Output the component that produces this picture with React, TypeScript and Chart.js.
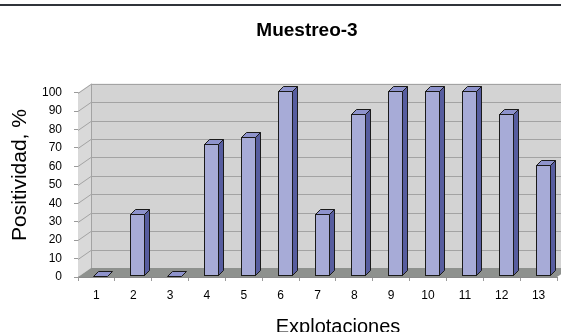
import React, { useEffect, useRef } from "react";
import { Chart, registerables } from "chart.js";

Chart.register(...registerables);

const categories = ["1", "2", "3", "4", "5", "6", "7", "8", "9", "10", "11", "12", "13"];
const positividad = [0, 33.3, 0, 71.4, 75, 100, 33.3, 87.5, 100, 100, 100, 87.5, 60];
const yTicks = [0, 10, 20, 30, 40, 50, 60, 70, 80, 90, 100];
const chartTitle = "Muestreo-3";
const xTitle = "Explotaciones";
const yTitle = "Positividad, %";

const FONT = 'Arial, "Liberation Sans", sans-serif';
const DX = 13;
const DY = 9;

const threeD = {
  id: "threeD",
  beforeDraw(chart: any) {
    const ctx = chart.ctx;
    ctx.save();
    ctx.fillStyle = "#ffffff";
    ctx.fillRect(0, 0, chart.width, chart.height);
    ctx.fillStyle = "#30343a";
    ctx.fillRect(0, 4, chart.width, 2);
    ctx.restore();
  },
  beforeDatasetsDraw(chart: any) {
    const ctx = chart.ctx;
    const { left, right, top, bottom } = chart.chartArea;
    const yScale = chart.scales.y;
    ctx.save();
    // side wall
    ctx.fillStyle = "#d9d9d9";
    ctx.beginPath();
    ctx.moveTo(left, bottom);
    ctx.lineTo(left, top);
    ctx.lineTo(left + DX, top - DY);
    ctx.lineTo(left + DX, bottom - DY);
    ctx.closePath();
    ctx.fill();
    // back wall
    ctx.fillStyle = "#d3d3d3";
    ctx.fillRect(left + DX, top - DY, right - left + DX, bottom - top);
    // floor
    ctx.fillStyle = "#8e918e";
    ctx.beginPath();
    ctx.moveTo(left, bottom);
    ctx.lineTo(left + DX, bottom - DY);
    ctx.lineTo(right + DX, bottom - DY);
    ctx.lineTo(right, bottom);
    ctx.closePath();
    ctx.fill();
    // grid lines
    ctx.strokeStyle = "#a3a3a3";
    ctx.lineWidth = 1;
    yScale.ticks.forEach((t: any) => {
      if (t.value === 0) return;
      const yp = Math.round(yScale.getPixelForValue(t.value)) + 0.5;
      ctx.beginPath();
      ctx.moveTo(left, yp);
      ctx.lineTo(left + DX, yp - DY);
      ctx.lineTo(right + DX + 10, yp - DY);
      ctx.stroke();
    });
    // back wall left edge
    ctx.beginPath();
    ctx.moveTo(left + DX + 0.5, top - DY);
    ctx.lineTo(left + DX + 0.5, bottom - DY);
    ctx.stroke();
    ctx.restore();
  },
  afterDatasetsDraw(chart: any) {
    const ctx = chart.ctx;
    const meta = chart.getDatasetMeta(0);
    const w = 14;
    const d = 5;
    ctx.save();
    ctx.lineWidth = 1;
    ctx.strokeStyle = "#1a1a1a";
    ctx.lineJoin = "miter";
    meta.data.forEach((el: any) => {
      const fx = Math.round(el.x + 4 - w / 2) + 0.5;
      const fy = Math.round(el.y - 1.5) + 0.5;
      const fb = Math.round(el.base - 1.5) + 0.5;
      if (fb - fy > 0.6) {
        // side face
        ctx.fillStyle = "#575d9f";
        ctx.beginPath();
        ctx.moveTo(fx + w, fy);
        ctx.lineTo(fx + w + d, fy - d);
        ctx.lineTo(fx + w + d, fb - d);
        ctx.lineTo(fx + w, fb);
        ctx.closePath();
        ctx.fill();
        ctx.stroke();
        // front face
        ctx.fillStyle = "#a7abd7";
        ctx.fillRect(fx, fy, w, fb - fy);
        ctx.strokeRect(fx, fy, w, fb - fy);
      }
      // top face
      ctx.fillStyle = "#8e93cc";
      ctx.beginPath();
      ctx.moveTo(fx, fy);
      ctx.lineTo(fx + d, fy - d);
      ctx.lineTo(fx + w + d, fy - d);
      ctx.lineTo(fx + w, fy);
      ctx.closePath();
      ctx.fill();
      ctx.stroke();
    });
    ctx.restore();
  },
  afterDraw(chart: any) {
    const ctx = chart.ctx;
    ctx.save();
    ctx.fillStyle = "#000";
    ctx.textAlign = "center";
    ctx.textBaseline = "alphabetic";
    // chart title
    ctx.font = `bold 19px ${FONT}`;
    ctx.fillText(chartTitle, 307, 36);
    // x title
    ctx.font = `20px ${FONT}`;
    ctx.fillText(xTitle, 338, 333);
    // y title
    ctx.translate(26, 175);
    ctx.rotate(-Math.PI / 2);
    ctx.font = `21px ${FONT}`;
    ctx.fillText(yTitle, 0, 0);
    ctx.restore();
  },
};

export default function App() {
  const ref = useRef<HTMLCanvasElement | null>(null);
  useEffect(() => {
    if (!ref.current) return;
    const chart = new Chart(ref.current, {
      type: "bar",
      data: {
        labels: categories,
        datasets: [
          {
            data: positividad,
            backgroundColor: "rgba(0,0,0,0)",
            borderWidth: 0,
            barThickness: 14,
          },
        ],
      },
      options: {
        responsive: false,
        animation: false,
        events: [],
        layout: { padding: { left: 0, right: 4, top: 92.7, bottom: 0 } },
        plugins: {
          legend: { display: false },
          tooltip: { enabled: false },
          title: { display: false },
        },
        scales: {
          x: {
            afterFit: (s: any) => {
              s.height = 55;
            },
            grid: {
              display: true,
              drawOnChartArea: false,
              drawTicks: true,
              tickLength: 4,
              color: "#9a9a9a",
              offset: true,
            },
            border: { display: true, color: "#8a8a8a" },
            ticks: { color: "#000", font: { family: FONT, size: 12 }, padding: 7, maxRotation: 0 },
          },
          y: {
            min: 0,
            max: 100,
            afterFit: (s: any) => {
              s.width = 78;
            },
            afterBuildTicks: (s: any) => {
              s.ticks = yTicks.map((v) => ({ value: v }));
            },
            grid: {
              display: true,
              drawOnChartArea: false,
              drawTicks: true,
              tickLength: 4,
              color: "#9a9a9a",
            },
            border: { display: true, color: "#9a9a9a" },
            ticks: { color: "#000", font: { family: FONT, size: 12 }, padding: 12 },
          },
        },
      },
      plugins: [threeD],
    });
    return () => chart.destroy();
  }, []);
  return (
    <div style={{ position: "fixed", left: 0, top: 0, width: 561, height: 332 }}>
      <canvas ref={ref} width={561} height={332} style={{ width: 561, height: 332, display: "block" }} />
    </div>
  );
}
